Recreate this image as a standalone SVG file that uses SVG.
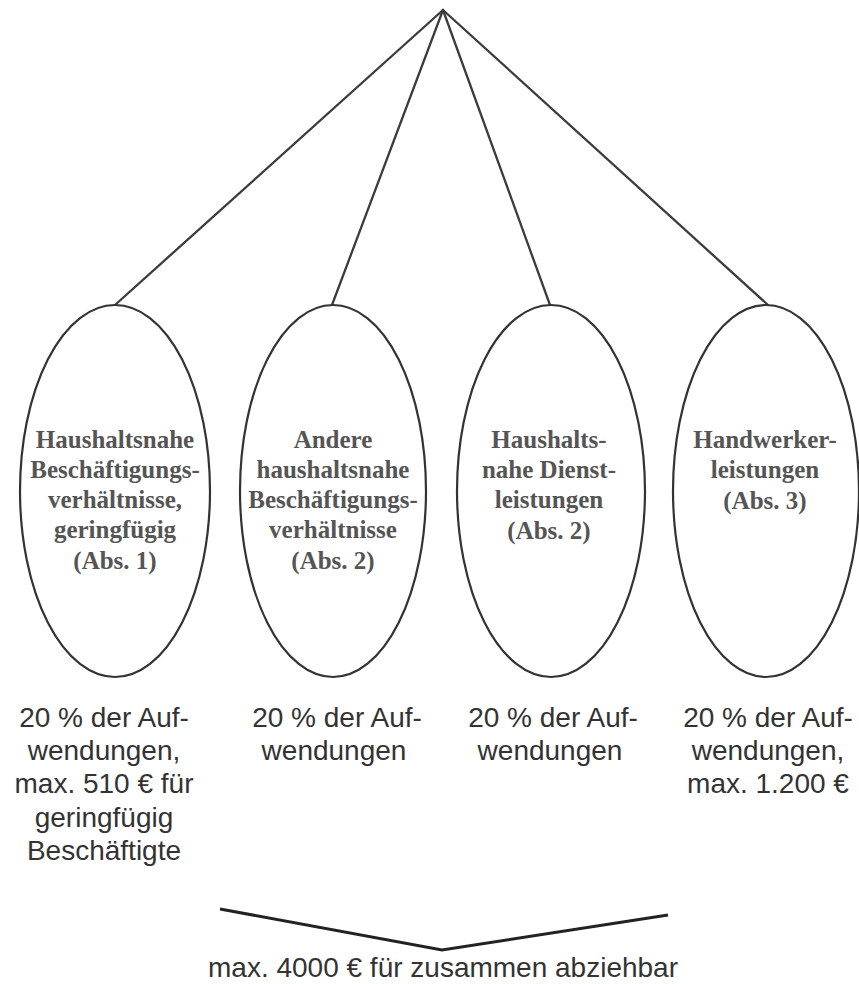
<svg xmlns="http://www.w3.org/2000/svg" width="859" height="984" viewBox="0 0 859 984">
<style>
.conn{stroke:#3c3c3c;stroke-width:2.3;fill:none;stroke-linecap:round}
.brace{stroke:#222;stroke-width:3;fill:none;stroke-linejoin:miter}
.node{fill:#fff;stroke:#333;stroke-width:2.2}
.lbl{font-family:"Liberation Serif","Times New Roman",serif;font-weight:bold;font-size:25px;fill:#555;text-anchor:middle}
.note{font-family:"Liberation Sans",Arial,sans-serif;font-size:28px;fill:#333;text-anchor:middle}
</style>
<rect width="859" height="984" fill="#fff"/>
<g id="connectors">
<line class="conn" x1="443" y1="10" x2="115" y2="305"/>
<line class="conn" x1="443" y1="10" x2="332" y2="305"/>
<line class="conn" x1="443" y1="10" x2="550" y2="305"/>
<line class="conn" x1="443" y1="10" x2="768" y2="305"/>
<polyline class="brace" points="220,909 442,950 668,915"/>
</g>
<g id="node1">
<ellipse class="node" cx="115" cy="491" rx="95" ry="186"/>
<text class="lbl" x="115" y="448">Haushaltsnahe</text>
<text class="lbl" x="115" y="478">Beschäftigungs-</text>
<text class="lbl" x="115" y="508">verhältnisse,</text>
<text class="lbl" x="115" y="538">geringfügig</text>
<text class="lbl" x="115" y="569">(Abs. 1)</text>
</g>
<g id="node2">
<ellipse class="node" cx="333" cy="491" rx="93" ry="186"/>
<text class="lbl" x="333" y="448">Andere</text>
<text class="lbl" x="333" y="478">haushaltsnahe</text>
<text class="lbl" x="333" y="508">Beschäftigungs-</text>
<text class="lbl" x="333" y="538">verhältnisse</text>
<text class="lbl" x="333" y="569">(Abs. 2)</text>
</g>
<g id="node3">
<ellipse class="node" cx="551" cy="491" rx="94" ry="186"/>
<text class="lbl" x="549" y="448">Haushalts-</text>
<text class="lbl" x="549" y="478">nahe Dienst-</text>
<text class="lbl" x="549" y="508">leistungen</text>
<text class="lbl" x="549" y="539">(Abs. 2)</text>
</g>
<g id="node4">
<ellipse class="node" cx="766" cy="491" rx="93" ry="186"/>
<text class="lbl" x="765" y="448">Handwerker-</text>
<text class="lbl" x="765" y="478">leistungen</text>
<text class="lbl" x="765" y="509">(Abs. 3)</text>
</g>
<g id="note1">
<text class="note" x="104" y="727">20 % der Auf-</text>
<text class="note" x="104" y="760">wendungen,</text>
<text class="note" x="104" y="793">max. 510 € für</text>
<text class="note" x="104" y="827">geringfügig</text>
<text class="note" x="104" y="860">Beschäftigte</text>
</g>
<g id="note2">
<text class="note" x="337" y="727">20 % der Auf-</text>
<text class="note" x="334" y="760">wendungen</text>
</g>
<g id="note3">
<text class="note" x="553" y="727">20 % der Auf-</text>
<text class="note" x="550" y="760">wendungen</text>
</g>
<g id="note4">
<text class="note" x="768" y="727">20 % der Auf-</text>
<text class="note" x="768" y="760">wendungen,</text>
<text class="note" x="768" y="793">max. 1.200 €</text>
</g>
<g id="total">
<text class="note" x="443" y="977">max. 4000 € für zusammen abziehbar</text>
</g>
</svg>
